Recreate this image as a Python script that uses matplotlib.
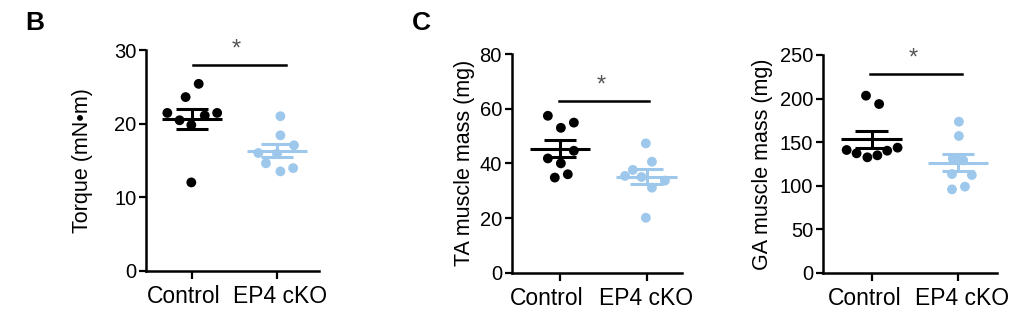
import numpy as np
import matplotlib.pyplot as plt

plt.rcParams['font.family'] = ['Liberation Sans', 'DejaVu Sans']

# --- data ---
groups = ["Control", "EP4 cKO"]

torque_ctrl = [21.45, 20.45, 19.8, 23.6, 25.4, 21.1, 21.45, 12.0]
torque_ko = [21.0, 18.4, 17.05, 16.0, 14.6, 13.5, 13.95, 15.9]
ta_ctrl = [57.4, 53.0, 54.9, 44.6, 41.8, 40.0, 34.8, 36.0]
ta_ko = [47.3, 40.6, 37.6, 35.4, 33.7, 31.1, 20.1, 35.0]
ga_ctrl = [203.3, 193.7, 140.9, 137.1, 132.5, 134.8, 140.1, 143.6]
ga_ko = [173.4, 157.0, 113.3, 112.2, 95.7, 98.8, 131.0, 129.0]

# horizontal scatter of the dots (as drawn in the figure)
torque_ctrl_dx = [-0.29, -0.146, -0.008, -0.075, 0.079, 0.15, 0.296, -0.008]
torque_ko_dx = [0.04, 0.04, 0.2, -0.22, -0.13, 0.04, 0.19, 0.0]
ta_ctrl_dx = [-0.14, 0.01, 0.16, 0.16, -0.14, 0.01, -0.06, 0.09]
ta_ko_dx = [-0.01, 0.06, -0.16, -0.25, 0.21, 0.06, -0.01, -0.06]
ga_ctrl_dx = [-0.066, 0.086, -0.29, -0.175, -0.05, 0.066, 0.18, 0.30]
ga_ko_dx = [0.01, 0.01, -0.07, 0.16, -0.07, 0.08, -0.06, 0.06]

colors = ["black", "#9DC8EC"]
W, H = 1024, 332


def draw_panel(ax, series, offsets, yticks, ylabel, xlim, sig_y, sig_x, labelpad, label_shift):
    for i, (vals, dx) in enumerate(zip(series, offsets)):
        vals = np.array(vals)
        ax.scatter(i + np.array(dx), vals, s=50, color=colors[i],
                   edgecolors='none', zorder=2, clip_on=False)
        m = vals.mean()
        sem = vals.std(ddof=1) / np.sqrt(len(vals))
        ax.hlines(m, i - 0.35, i + 0.35, color=colors[i], lw=2.2, zorder=3)
        ax.hlines([m - sem, m + sem], i - 0.19, i + 0.19, color=colors[i], lw=2.2, zorder=3)
        ax.vlines(i, m - sem, m + sem, color=colors[i], lw=2.2, zorder=3)
    ax.plot(sig_x, [sig_y, sig_y], color='black', lw=1.8, clip_on=False)
    ax.annotate("*", (np.mean(sig_x) - 0.03, sig_y), xytext=(0, 3),
                textcoords='offset points', ha='center', va='bottom',
                fontsize=17, color='#555555')
    ax.set_ylim(yticks[0], yticks[-1])
    ax.set_yticks(yticks)
    ax.set_xlim(*xlim)
    ax.set_xticks([0, 1])
    ax.set_xticklabels([])
    # group names, nudged apart a little as in the original
    for i, (name, sh) in enumerate(zip(groups, label_shift)):
        ax.annotate(name, (i, 0), xycoords=('data', 'axes fraction'),
                    xytext=(sh * 0.72, -10), textcoords='offset points',
                    ha='center', va='top', fontsize=16.5)
    ax.tick_params(axis='y', labelsize=14.5, width=1.6, length=5, pad=2)
    ax.tick_params(axis='x', width=1.6, length=6, pad=4)
    ax.set_ylabel(ylabel, fontsize=15.5, labelpad=labelpad)
    for s in ['top', 'right']:
        ax.spines[s].set_visible(False)
    for s in ['left', 'bottom']:
        ax.spines[s].set_linewidth(1.8)


fig = plt.figure(figsize=(W / 100, H / 100), dpi=100)

ax1 = fig.add_axes([146 / W, 61.3 / H, 173 / W, 220.7 / H])
draw_panel(ax1, [torque_ctrl, torque_ko], [torque_ctrl_dx, torque_ko_dx],
           [0, 10, 20, 30], "Torque (mN\u2022m)", (-0.541, 1.494), 28.0, [0.01, 1.1], 15, (-8, 3))

ax2 = fig.add_axes([511.7 / W, 59.3 / H, 170.3 / W, 218.7 / H])
draw_panel(ax2, [ta_ctrl, ta_ko], [ta_ctrl_dx, ta_ko_dx],
           [0, 20, 40, 60, 80], "TA muscle mass (mg)", (-0.557, 1.407), 62.9, [-0.01, 1.03], 3, (-13, -1))

ax3 = fig.add_axes([823 / W, 59.3 / H, 173.7 / W, 217.7 / H])
draw_panel(ax3, [ga_ctrl, ga_ko], [ga_ctrl_dx, ga_ko_dx],
           [0, 50, 100, 150, 200, 250], "GA muscle mass (mg)", (-0.564, 1.448), 228, [-0.02, 1.05], 5, (-7, 4))

fig.text(25 / W, 1 - 30 / H, "B", fontsize=19, fontweight='bold')
fig.text(412 / W, 1 - 30 / H, "C", fontsize=19, fontweight='bold')

fig.savefig("out.png", dpi=100)
